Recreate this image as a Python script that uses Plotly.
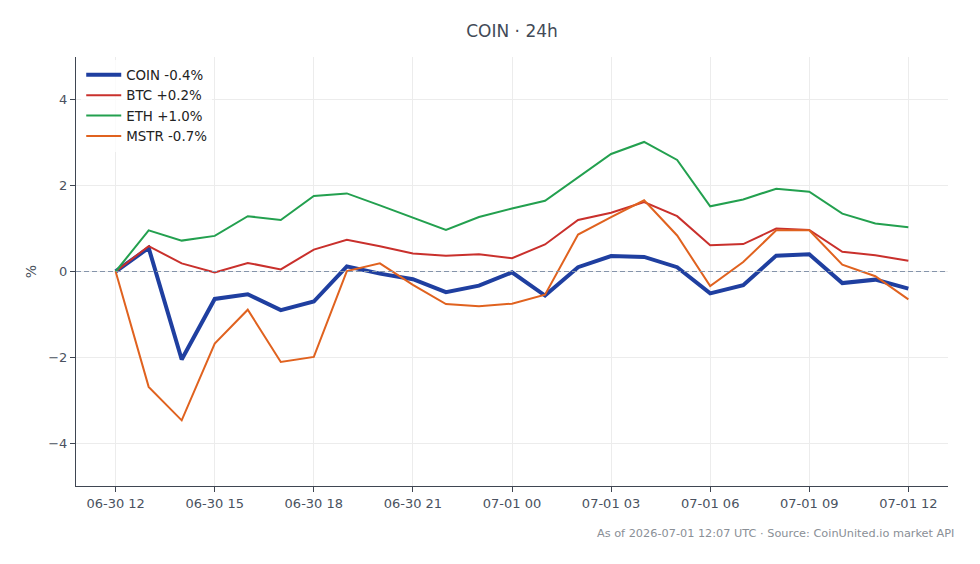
import plotly.graph_objects as go
import pandas as pd

times = pd.date_range("2026-06-30 12:00", "2026-07-01 12:00", freq="h")

coin = [0.00, 0.55, -2.05, -0.64, -0.53, -0.90, -0.70, 0.12, -0.05, -0.18, -0.48, -0.33,
        -0.02, -0.56, 0.10, 0.36, 0.34, 0.10, -0.51, -0.32, 0.37, 0.40, -0.27, -0.19, -0.40]
btc = [0.00, 0.59, 0.19, -0.02, 0.20, 0.05, 0.51, 0.74, 0.59, 0.42, 0.37, 0.40,
       0.31, 0.63, 1.20, 1.37, 1.62, 1.29, 0.61, 0.64, 1.00, 0.97, 0.46, 0.38, 0.25]
eth = [0.00, 0.96, 0.72, 0.83, 1.29, 1.20, 1.76, 1.82, 1.54, 1.25, 0.97, 1.27,
       1.47, 1.65, 2.20, 2.74, 3.02, 2.60, 1.52, 1.68, 1.93, 1.86, 1.35, 1.12, 1.03]
mstr = [0.00, -2.69, -3.47, -1.68, -0.89, -2.11, -1.99, 0.01, 0.19, -0.31, -0.76, -0.81,
        -0.75, -0.54, 0.86, 1.27, 1.66, 0.84, -0.34, 0.22, 0.96, 0.96, 0.16, -0.11, -0.65]

names = ["COIN -0.4%", "BTC +0.2%", "ETH +1.0%", "MSTR -0.7%"]
series = [coin, btc, eth, mstr]
colors = ["#1f3fa0", "#c9302c", "#23a04f", "#e0621f"]
widths = [4, 2, 2, 2]

x_lo = pd.Timestamp("2026-06-30 10:48")
x_hi = pd.Timestamp("2026-07-01 13:12")

fig = go.Figure()
fig.add_shape(type="line", xref="x", yref="y", x0=x_lo, x1=x_hi, y0=0, y1=0,
              line=dict(color="#8594aa", width=1.2, dash="5px,3px"), layer="above")
for n, s, c, w in zip(names, series, colors, widths):
    fig.add_trace(go.Scatter(x=times, y=s, mode="lines", name=n,
                             line=dict(color=c, width=w)))

fig.update_layout(
    width=980, height=564,
    margin=dict(l=76, r=32, t=57, b=78),
    paper_bgcolor="white", plot_bgcolor="white",
    font=dict(family="DejaVu Sans", size=13, color="#4a5260"),
    title=dict(text="COIN · 24h", x=0.5, xref="paper", xanchor="center",
               y=1 - 31 / 564, yanchor="middle",
               font=dict(size=17, color="#424a57")),
    showlegend=True,
    legend=dict(x=0.006, y=0.994, xanchor="left", yanchor="top",
                bgcolor="rgba(255,255,255,0.8)", borderwidth=0, itemwidth=35,
                font=dict(size=13.4, color="#222222"), tracegroupgap=0),
    xaxis=dict(
        range=[x_lo, x_hi],
        tickformat="%m-%d %H", dtick=3 * 3600 * 1000,
        tick0=pd.Timestamp("2026-06-30 12:00"),
        showgrid=True, gridcolor="#ececec", gridwidth=1,
        showline=True, linecolor="#3f4652", linewidth=1.2,
        ticks="outside", ticklen=5, tickcolor="#3f4652",
        zeroline=False, tickfont=dict(size=13, color="#4a5260"),
    ),
    yaxis=dict(
        range=[-5, 5], dtick=2, tick0=0,
        title=dict(text="%", font=dict(size=14, color="#4a5260"), standoff=8),
        showgrid=True, gridcolor="#ececec", gridwidth=1,
        showline=True, linecolor="#3f4652", linewidth=1.2,
        ticks="outside", ticklen=5, tickcolor="#3f4652",
        zeroline=False, tickfont=dict(size=13, color="#4a5260"),
    ),
)

fig.add_annotation(text="As of 2026-07-01 12:07 UTC · Source: CoinUnited.io market API",
                   xref="paper", yref="paper", x=1, y=-(533 - 486) / 429,
                   xanchor="right", yanchor="middle", xshift=8, showarrow=False,
                   font=dict(size=11.3, color="#8a8f96"))

fig.write_html("out.html")
